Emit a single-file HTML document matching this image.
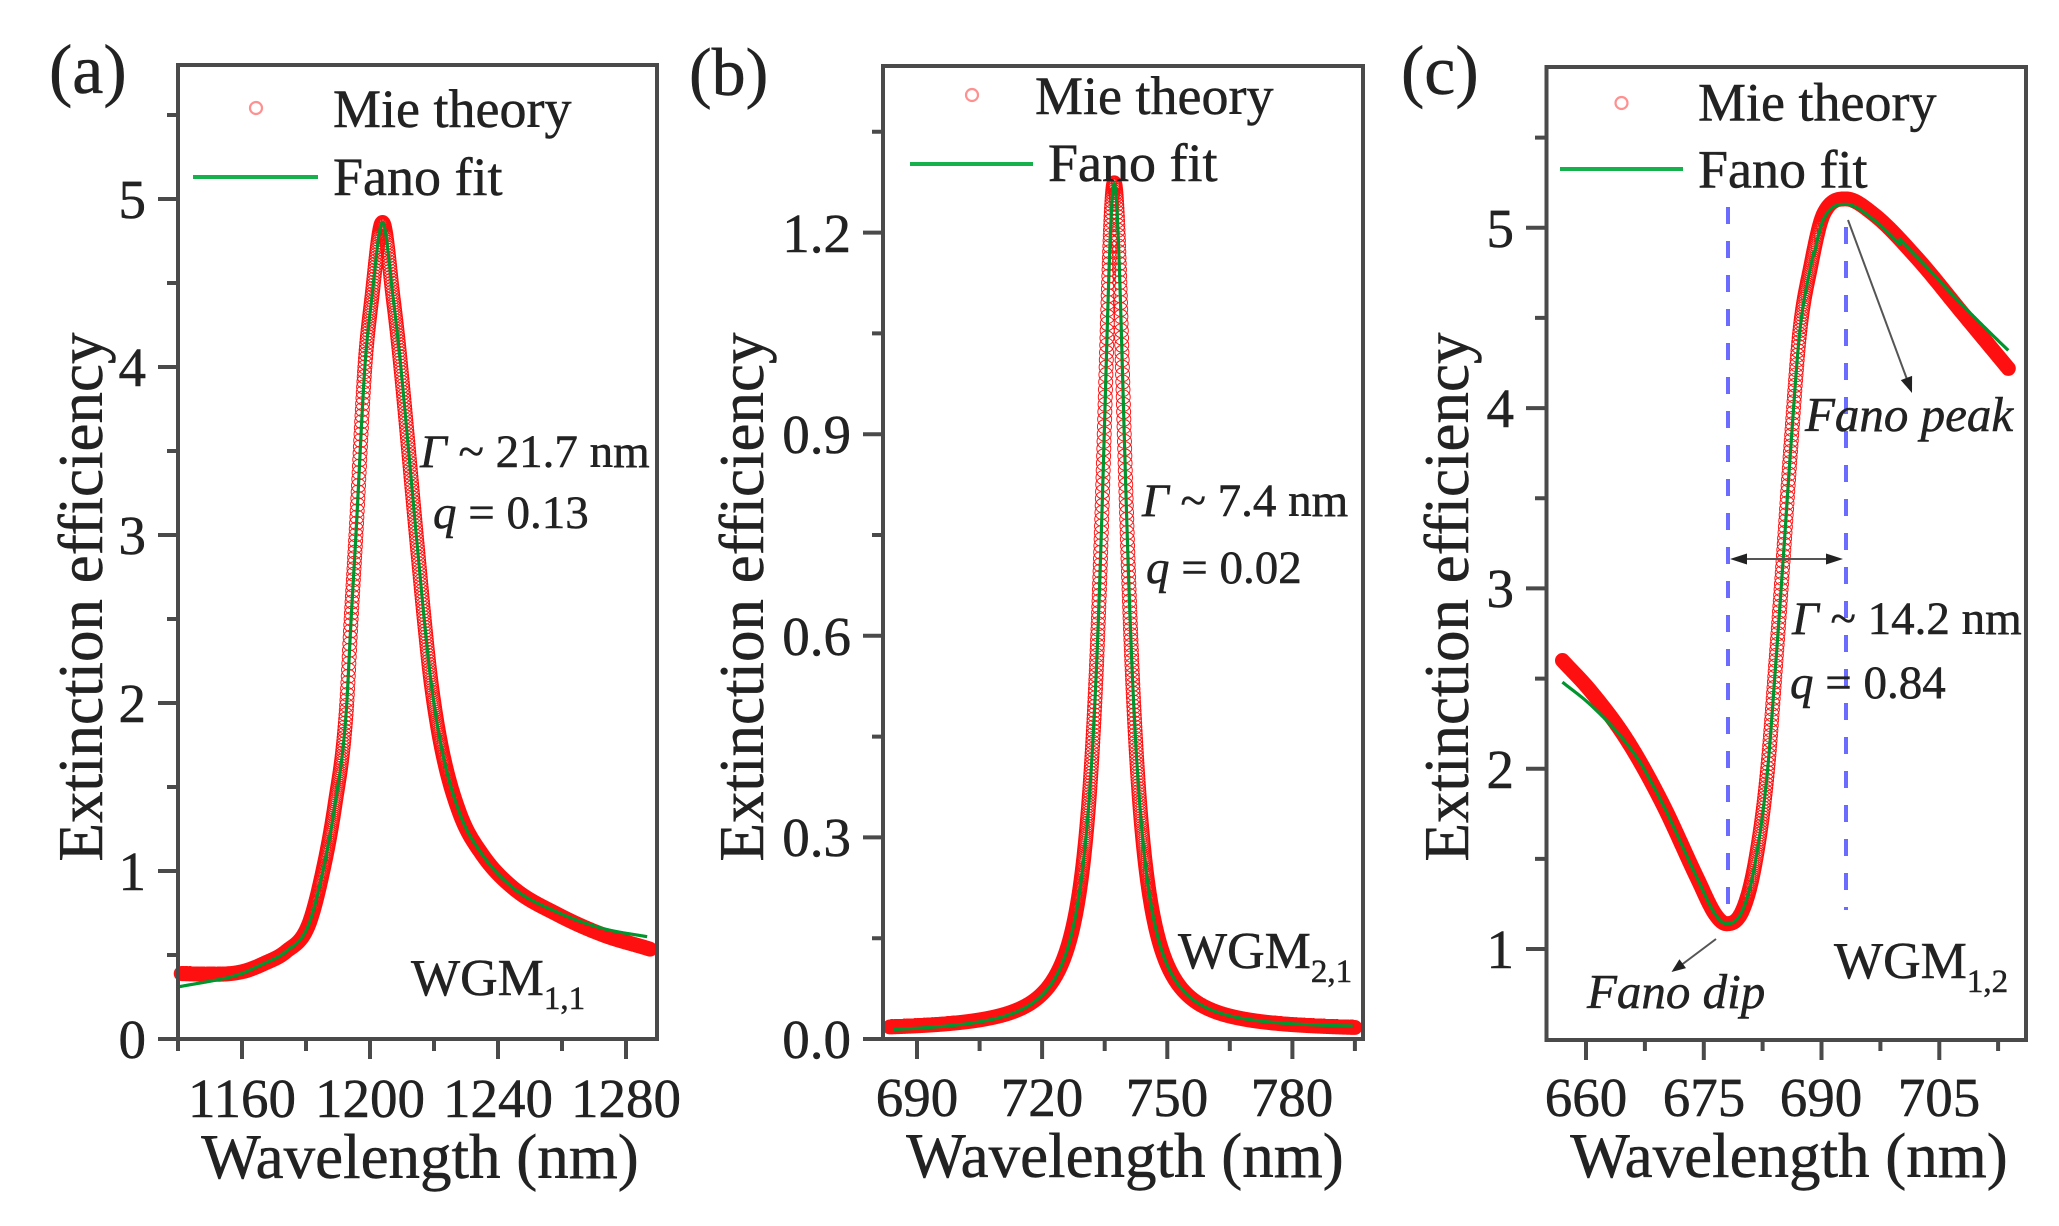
<!DOCTYPE html>
<html><head><meta charset="utf-8"><style>
html,body{margin:0;padding:0;background:#fff;}
svg{display:block;}
text{font-family:"Liberation Serif","Times New Roman",serif;fill:#222;stroke:#222;stroke-width:0.5;}
</style></head><body>
<svg id="s" width="2059" height="1226" viewBox="0 0 2059 1226" xmlns="http://www.w3.org/2000/svg">
<rect width="2059" height="1226" fill="#fff"/>

<!-- panel labels -->
<text x="49" y="93" font-size="70">(a)</text>
<text x="689" y="95" font-size="68">(b)</text>
<text x="1401" y="94" font-size="70">(c)</text>

<!-- dashed lines panel c -->
<line x1="1728" y1="207" x2="1728" y2="919" stroke="#6b6bff" stroke-width="4" stroke-dasharray="17 17"/>
<line x1="1846" y1="227" x2="1846" y2="910" stroke="#6b6bff" stroke-width="4" stroke-dasharray="17 17"/>

<!-- data -->
<path id="ra" fill="none" stroke="#ff1010" stroke-width="0.95"/>
<path id="rb" fill="none" stroke="#ff1010" stroke-width="0.95"/>
<path id="rc" fill="none" stroke="#ff1010" stroke-width="0.95"/>
<path id="ga" fill="none" stroke="#00952e" stroke-width="3.2" stroke-linejoin="round"/>
<path id="gb" fill="none" stroke="#00952e" stroke-width="3.2" stroke-linejoin="round"/>
<path id="gc" fill="none" stroke="#00952e" stroke-width="3.2" stroke-linejoin="round"/>

<!-- frames -->
<g fill="none" stroke="#4a4a4a" stroke-width="4">
<rect x="178" y="65" width="479" height="974"/>
<rect x="883" y="66" width="480" height="973"/>
<rect x="1546.5" y="67" width="479.5" height="973"/>
<!-- ticks a -->
<path d="M158 1039H178M158 871H178M158 703H178M158 535H178M158 367H178M158 199H178
M167 955H178M167 787H178M167 619H178M167 451H178M167 283H178M167 115H178
M242 1039V1059M370 1039V1059M498 1039V1059M626 1039V1059
M178 1039V1051M306 1039V1051M434 1039V1051M562 1039V1051"/>
<!-- ticks b -->
<path d="M863 1039H883M863 837.4H883M863 635.8H883M863 434.2H883M863 232.6H883
M872 938.2H883M872 736.6H883M872 535H883M872 333.4H883M872 131.8H883
M917 1039V1059M1042.1 1039V1059M1167.3 1039V1059M1292.4 1039V1059
M979.6 1039V1051M1104.7 1039V1051M1229.8 1039V1051M1354.9 1039V1051"/>
<!-- ticks c -->
<path d="M1526 949H1546.5M1526 768.7H1546.5M1526 588.4H1546.5M1526 408.1H1546.5M1526 227.8H1546.5
M1535 858.9H1546.5M1535 678.6H1546.5M1535 498.2H1546.5M1535 317.9H1546.5M1535 137.6H1546.5
M1586 1040V1060M1703.8 1040V1060M1821.5 1040V1060M1939.3 1040V1060
M1644.9 1040V1051M1762.6 1040V1051M1880.4 1040V1051M1998.1 1040V1051"/>
</g>

<!-- tick labels a -->
<g font-size="55" text-anchor="end">
<text x="146" y="1058">0</text><text x="146" y="890">1</text><text x="146" y="722">2</text>
<text x="146" y="554">3</text><text x="146" y="386">4</text><text x="146" y="218">5</text>
</g>
<g font-size="55" text-anchor="middle">
<text x="242" y="1117">1160</text><text x="370" y="1117">1200</text><text x="498" y="1117">1240</text><text x="626" y="1117">1280</text>
</g>
<!-- tick labels b -->
<g font-size="55" text-anchor="end">
<text x="851" y="1058">0.0</text><text x="851" y="856">0.3</text><text x="851" y="655">0.6</text>
<text x="851" y="453">0.9</text><text x="851" y="252">1.2</text>
</g>
<g font-size="55" text-anchor="middle">
<text x="917" y="1116">690</text><text x="1042" y="1116">720</text><text x="1167" y="1116">750</text><text x="1292" y="1116">780</text>
</g>
<!-- tick labels c -->
<g font-size="55" text-anchor="end">
<text x="1514" y="968">1</text><text x="1514" y="788">2</text><text x="1514" y="607">3</text>
<text x="1514" y="427">4</text><text x="1514" y="247">5</text>
</g>
<g font-size="55" text-anchor="middle">
<text x="1586" y="1116">660</text><text x="1704" y="1116">675</text><text x="1821" y="1116">690</text><text x="1939" y="1116">705</text>
</g>

<!-- axis titles -->
<g font-size="63" text-anchor="middle">
<text x="420" y="1178">Wavelength (nm)</text>
<text x="1125" y="1177">Wavelength (nm)</text>
<text x="1789" y="1177">Wavelength (nm)</text>
<text transform="translate(102,597) rotate(-90)">Extinction efficiency</text>
<text transform="translate(763,597) rotate(-90)">Extinction efficiency</text>
<text transform="translate(1468,597) rotate(-90)">Extinction efficiency</text>
</g>

<!-- legends -->
<g font-size="54">
<circle cx="256" cy="108" r="6" fill="none" stroke="#ff9090" stroke-width="2.2"/>
<text x="333" y="127">Mie theory</text>
<line x1="193" y1="177" x2="318" y2="177" stroke="#16b04c" stroke-width="4"/>
<text x="333" y="195">Fano fit</text>

<circle cx="972" cy="95" r="6" fill="none" stroke="#ff9090" stroke-width="2.2"/>
<text x="1035" y="114">Mie theory</text>
<line x1="910" y1="164" x2="1033" y2="164" stroke="#16b04c" stroke-width="4"/>
<text x="1048" y="181">Fano fit</text>

<circle cx="1621.5" cy="103" r="6" fill="none" stroke="#ff9090" stroke-width="2.2"/>
<text x="1698" y="120.5">Mie theory</text>
<line x1="1560" y1="169" x2="1683" y2="169" stroke="#16b04c" stroke-width="4"/>
<text x="1698" y="187.5">Fano fit</text>
</g>

<!-- annotations -->
<g font-size="47">
<text x="420" y="467"><tspan font-style="italic">Γ</tspan> ~ 21.7 nm</text>
<text x="433" y="528"><tspan font-style="italic">q</tspan> = 0.13</text>
<text x="1142" y="516"><tspan font-style="italic">Γ</tspan> ~ 7.4 nm</text>
<text x="1146" y="583"><tspan font-style="italic">q</tspan> = 0.02</text>
<text x="1792" y="634"><tspan font-style="italic">Γ</tspan> ~ 14.2 nm</text>
<text x="1790" y="698"><tspan font-style="italic">q</tspan> = 0.84</text>
</g>
<g font-size="52">
<text x="411" y="995">WGM<tspan font-size="33" dy="14">1,1</tspan></text>
<text x="1178" y="968">WGM<tspan font-size="33" dy="14">2,1</tspan></text>
<text x="1834" y="978">WGM<tspan font-size="33" dy="14">1,2</tspan></text>
</g>
<g font-size="49" font-style="italic">
<text x="1805" y="431">Fano peak</text>
<text x="1587" y="1008">Fano dip</text>
</g>

<!-- arrows -->
<g stroke="#555" stroke-width="2" fill="none">
<line x1="1848" y1="220" x2="1908" y2="382"/>
<line x1="1716" y1="939" x2="1680" y2="966"/>
<line x1="1740" y1="559" x2="1833" y2="559"/>
</g>
<g fill="#222">
<polygon points="1912,393 1912.1,375.9 1900.8,380.1"/>
<polygon points="1671.5,972 1686.0,968.1 1679.4,959.3"/>
<polygon points="1730,559 1747,553.5 1747,564.5"/>
<polygon points="1843,559 1826,553.5 1826,564.5"/>
</g>
</svg>
<script>
(function(){
function mono(P){
  var xs=P.map(function(p){return p[0];}), ys=P.map(function(p){return p[1];});
  var n=xs.length, d=[], m=new Array(n), i;
  for(i=0;i<n-1;i++) d[i]=(ys[i+1]-ys[i])/(xs[i+1]-xs[i]);
  m[0]=d[0]; m[n-1]=d[n-2];
  for(i=1;i<n-1;i++){ if(d[i-1]*d[i]<=0) m[i]=0; else m[i]=(d[i-1]+d[i])/2; }
  for(i=0;i<n-1;i++){
    if(d[i]===0){m[i]=0;m[i+1]=0;continue;}
    var a=m[i]/d[i], b=m[i+1]/d[i], s=a*a+b*b;
    if(s>9){var t=3/Math.sqrt(s); m[i]=t*a*d[i]; m[i+1]=t*b*d[i];}
  }
  return function(x){
    var k=0;
    if(x<=xs[0]) k=0; else { while(k<n-2 && x>xs[k+1]) k++; }
    var h=xs[k+1]-xs[k], t=(x-xs[k])/h, t2=t*t, t3=t2*t;
    return (2*t3-3*t2+1)*ys[k]+(t3-2*t2+t)*h*m[k]+(-2*t3+3*t2)*ys[k+1]+(t3-t2)*h*m[k+1];
  };
}
function circles(f,X,Y,l0,l1,step,r){
  var d='', N=Math.round((l1-l0)/step);
  for(var j=0;j<=N;j++){
    var l=l0+j*step, x=X(l), y=Y(f(l));
    d+='M'+(x-r).toFixed(2)+' '+y.toFixed(2)+'a'+r+' '+r+' 0 1 0 '+(2*r)+' 0a'+r+' '+r+' 0 1 0 '+(-2*r)+' 0';
  }
  return d;
}
function line(f,X,Y,l0,l1,step){
  var d='', N=Math.round((l1-l0)/step);
  for(var j=0;j<=N;j++){
    var l=l0+j*step;
    d+=(j?'L':'M')+X(l).toFixed(2)+' '+Y(f(l)).toFixed(2);
  }
  return d;
}
// panel a
var Xa=function(l){return 178+(l-1140)*3.2;}, Ya=function(v){return 1039-v*168;};
var fa=mono([[1140,0.39],[1150,0.385],[1160,0.40],[1167,0.45],[1173.7,0.52],[1180.6,0.67],[1184.7,0.95],[1189.1,1.40],[1192.5,1.93],[1194.1,2.5],[1195.6,3.0],[1198.4,4.0],[1200.5,4.4],[1203.9,4.86],[1207.3,4.4],[1209.1,4.1],[1214.7,2.95],[1217.2,2.45],[1219.1,2.12],[1222.5,1.72],[1228.1,1.34],[1235,1.1],[1244.7,0.9],[1258.75,0.74],[1272.8,0.62],[1286.6,0.54],[1290,0.52]]);
var ga=function(l){var v=fa(l); if(l<1165) v-=0.08*Math.pow((1165-l)/25,1.3); if(l>1245) v+=0.07*Math.pow((l-1245)/42,1.5); return v;};
document.getElementById('ra').setAttribute('d',circles(fa,Xa,Ya,1141,1287.5,0.1,7));
document.getElementById('ga').setAttribute('d',line(ga,Xa,Ya,1140,1286.6,0.1));
// panel b
var Xb=function(l){return 917+(l-690)*4.17;}, Yb=function(v){return 1039-v*672;};
var fb=function(l){var e=(l-737.3)/3.7; return 0.012+1.262/(1+e*e);};
var gb=function(l){var e=(l-737.3)/3.7; return 0.008+0.006*(l-684)/110+1.262/(1+e*e);};
document.getElementById('rb').setAttribute('d',circles(fb,Xb,Yb,683.5,795,0.05,7));
document.getElementById('gb').setAttribute('d',line(gb,Xb,Yb,684.5,794.5,0.05));
// panel c
var Xc=function(l){return 1586+(l-660)*7.85;}, Yc=function(v){return 949-(v-1)*180.3;};
var fc=mono([[657,2.6],[660.6,2.43],[665.2,2.16],[669.7,1.81],[674.2,1.39],[676.5,1.19],[677.9,1.14],[680,1.22],[681.6,1.49],[683.1,1.98],[684.2,2.6],[685.1,3.15],[686.1,3.79],[687.2,4.41],[688.6,4.78],[690.3,5.08],[693.1,5.16],[696.5,5.08],[702.2,4.83],[707.9,4.53],[713.8,4.22]]);
var gc=function(l){var v=fc(l); if(l<667) v-=0.12*(667-l)/10; if(l>700) v+=0.1*Math.pow((l-700)/13.8,1.5); if(l>689&&l<700) v-=0.03; return v;};
document.getElementById('rc').setAttribute('d',circles(fc,Xc,Yc,657,713.8,0.05,7));
document.getElementById('gc').setAttribute('d',line(gc,Xc,Yc,657,713.8,0.05));
})();
</script>
</body></html>
